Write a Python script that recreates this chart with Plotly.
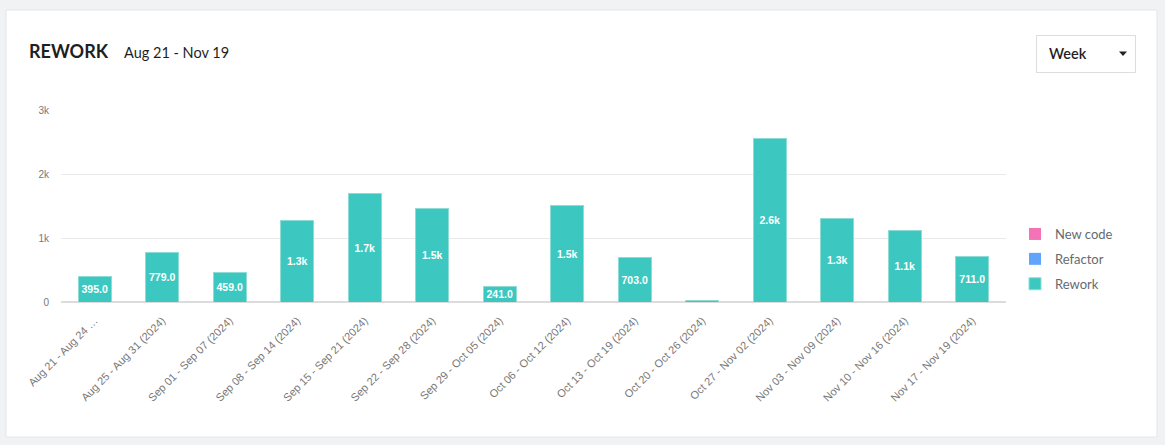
import plotly.graph_objects as go

# weekly buckets shown on the x axis
weeks = [
    "Aug 21 - Aug 24 (2024)", "Aug 25 - Aug 31 (2024)", "Sep 01 - Sep 07 (2024)",
    "Sep 08 - Sep 14 (2024)", "Sep 15 - Sep 21 (2024)", "Sep 22 - Sep 28 (2024)",
    "Sep 29 - Oct 05 (2024)", "Oct 06 - Oct 12 (2024)", "Oct 13 - Oct 19 (2024)",
    "Oct 20 - Oct 26 (2024)", "Oct 27 - Nov 02 (2024)", "Nov 03 - Nov 09 (2024)",
    "Nov 10 - Nov 16 (2024)", "Nov 17 - Nov 19 (2024)",
]
week_labels = [
    "Aug 21 - Aug 24 \u2026", "Aug 25 - Aug 31 (2024)", "Sep 01 - Sep 07 (2024)",
    "Sep 08 - Sep 14 (2024)", "Sep 15 - Sep 21 (2024)", "Sep 22 - Sep 28 (2024)",
    "Sep 29 - Oct 05 (2024)", "Oct 06 - Oct 12 (2024)", "Oct 13 - Oct 19 (2024)",
    "Oct 20 - Oct 26 (2024)", "Oct 27 - Nov 02 (2024)", "Nov 03 - Nov 09 (2024)",
    "Nov 10 - Nov 16 (2024)", "Nov 17 - Nov 19 (2024)",
]

new_code = [0, 0, 0, 0, 0, 0, 0, 0, 0, 0, 0, 0, 0, 0]
refactor = [0, 0, 0, 0, 0, 0, 0, 0, 0, 0, 0, 0, 0, 0]
rework = [395, 779, 459, 1270, 1700, 1460, 241, 1510, 703, 30, 2550, 1300, 1110, 711]
rework_text = ["395.0", "779.0", "459.0", "1.3k", "1.7k", "1.5k", "241.0",
               "1.5k", "703.0", "", "2.6k", "1.3k", "1.1k", "711.0"]

W, H = 1165, 445
L, R, T, B = 61, 159, 110, 143


def px(x):
    # pixel column -> paper x
    return (x - L) / (W - L - R)


def py(y):
    # pixel row -> paper y
    return (H - B - y) / (H - T - B)


fig = go.Figure()

fig.add_trace(go.Bar(x=weeks, y=new_code, name="New code", marker_color="#f472b6",
                     marker_line_width=0, legendgroup="a"))
fig.add_trace(go.Bar(x=weeks, y=refactor, name="Refactor", marker_color="#60a5fa",
                     marker_line_width=0, legendgroup="b"))
fig.add_trace(go.Bar(x=weeks, y=rework, name="Rework", marker_color="#3cc8c0",
                     marker_line=dict(color="#8ddcd6", width=1),
                     text=rework_text, textposition="inside", insidetextanchor="middle",
                     constraintext="none",
                     textfont=dict(color="white", size=10.5, family="Liberation Sans", weight="bold"),
                     legendgroup="c"))

shapes = [
    # white card
    dict(type="rect", xref="paper", yref="paper", x0=px(6), x1=px(1157), y0=py(437), y1=py(10),
         fillcolor="white", line=dict(color="#e4e6ea", width=1), layer="below"),
    # dropdown box
    dict(type="rect", xref="paper", yref="paper", x0=px(1036.5), x1=px(1135.5), y0=py(72.5), y1=py(35.5),
         fillcolor="white", line=dict(color="#dcdde0", width=1)),
    # dropdown caret
    dict(type="path", xref="paper", yref="paper",
         path="M %f %f L %f %f L %f %f Z" % (px(1119), py(51.5), px(1127), py(51.5), px(1123), py(56)),
         fillcolor="#222", line=dict(width=0)),
]

annotations = [
    dict(text="<b>REWORK</b>", x=px(27), y=py(51), xref="paper", yref="paper",
         xanchor="left", yanchor="middle", showarrow=False,
         font=dict(family="Lato", size=18, color="#1f1f1f")),
    dict(text="Aug 21 - Nov 19", x=px(122), y=py(52), xref="paper", yref="paper",
         xanchor="left", yanchor="middle", showarrow=False,
         font=dict(family="Lato", size=14.5, color="#1f1f1f")),
    dict(text="Week", x=px(1047), y=py(54), xref="paper", yref="paper",
         xanchor="left", yanchor="middle", showarrow=False,
         font=dict(family="Lato", size=14.5, color="#1f1f1f", weight=600)),
]

fig.update_layout(
    width=W, height=H,
    margin=dict(l=L, r=R, t=T, b=B, autoexpand=False),
    paper_bgcolor="#f1f2f4",
    plot_bgcolor="rgba(0,0,0,0)",
    barmode="stack",
    bargap=0.505,
    showlegend=True,
    legend=dict(x=px(1015), y=py(219), xanchor="left", yanchor="top",
                traceorder="grouped", tracegroupgap=5,
                font=dict(family="Lato", size=13, color="#666a70"),
                bgcolor="rgba(0,0,0,0)"),
    shapes=shapes,
    annotations=annotations,
    uniformtext=dict(mode=False),
)

fig.update_xaxes(
    tickmode="array", tickvals=weeks, ticktext=week_labels,
    tickangle=-45, showgrid=False, showline=False, ticks="",
    ticklabelstandoff=9,
    tickfont=dict(family="Liberation Sans", size=11, color="#777777"),
)
fig.update_yaxes(
    range=[0, 3000], dtick=1000, tickformat="~s",
    showgrid=True, gridcolor="#e9e9eb", gridwidth=1,
    zeroline=True, zerolinecolor="#dcdcdf", zerolinewidth=2,
    ticks="", ticklabelstandoff=11,
    tickfont=dict(family="Liberation Sans", size=10, color="#777777"),
)

# drop the browser's default body margin so the figure sits at the window origin
fig.write_html("out.html", config={"displayModeBar": False},
               post_script="document.body.style.margin='0';document.body.style.background='#f1f2f4';")
